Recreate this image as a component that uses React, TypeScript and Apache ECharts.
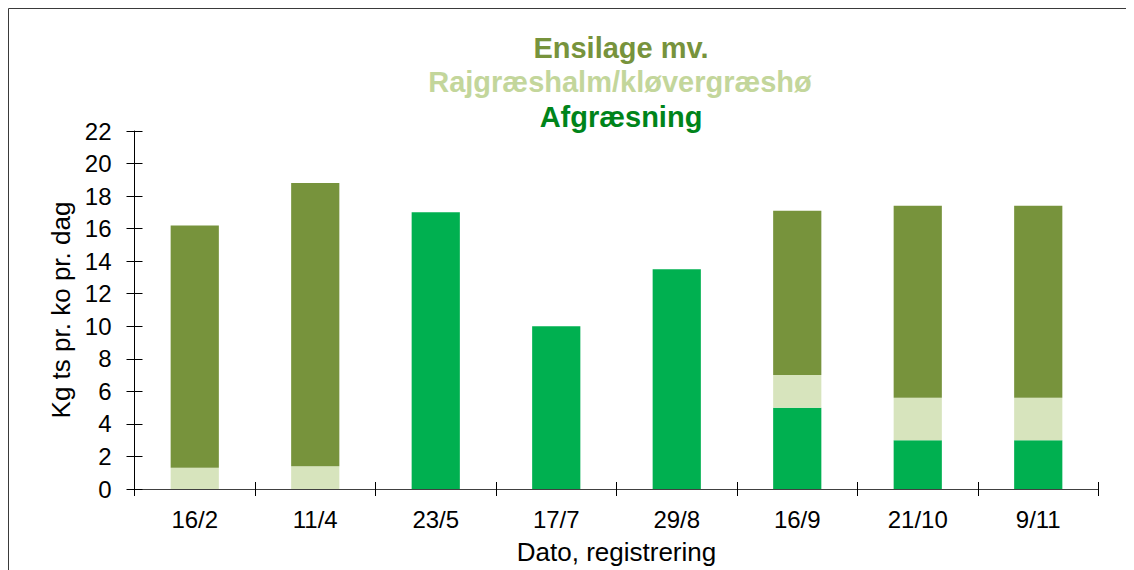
import React, { useEffect, useRef } from "react";
import * as echarts from "echarts";

const categories = ["16/2", "11/4", "23/5", "17/7", "29/8", "16/9", "21/10", "9/11"];
const afgraesning = [0, 0, 17, 10, 13.5, 5, 3, 3];
const rajgraes = [1.3, 1.4, 0, 0, 0, 2, 2.6, 2.6];
const ensilage = [14.9, 17.4, 0, 0, 0, 10.1, 11.8, 11.8];

const FONT = "'Liberation Sans', Arial, sans-serif";

export default function App() {
  const ref = useRef<HTMLDivElement>(null);
  useEffect(() => {
    document.body.style.overflow = "hidden";
    const chart = echarts.init(ref.current!, null, { renderer: "svg" });
    chart.setOption({
      animation: false,
      textStyle: { fontFamily: FONT },
      grid: { left: 126.5, right: 35.5, top: 123, bottom: 79.5 },
      graphic: [
        {
          type: "polyline",
          shape: { points: [[0.5, 600], [0.5, 0.5], [1126, 0.5]] },
          style: { fill: "none", stroke: "#3a3a3a", lineWidth: 1 },
          silent: true,
        },
        {
          type: "text", x: 613, y: 40,
          style: { text: "Ensilage mv.", fill: "#77933C", font: `bold 29px ${FONT}`, textAlign: "center", textVerticalAlign: "middle" },
        },
        {
          type: "text", x: 612, y: 74,
          style: { text: "Rajgræshalm/kløvergræshø", fill: "#C3D69B", font: `bold 29px ${FONT}`, textAlign: "center", textVerticalAlign: "middle" },
        },
        {
          type: "text", x: 613, y: 109,
          style: { text: "Afgræsning", fill: "#00841A", font: `bold 29px ${FONT}`, textAlign: "center", textVerticalAlign: "middle" },
        },
      ],
      xAxis: [
        {
          type: "category",
          data: categories,
          axisLine: { lineStyle: { color: "#404040", width: 1 } },
          axisTick: { show: true, length: 7, lineStyle: { color: "#000" } },
          axisLabel: { fontSize: 24, color: "#000", margin: 18, fontFamily: FONT },
          name: "Dato, registrering",
          nameLocation: "middle",
          nameGap: 50,
          nameTextStyle: { fontSize: 26, color: "#000", fontFamily: FONT },
        },
        {
          type: "category",
          data: categories,
          position: "bottom",
          axisLine: { show: false },
          axisTick: { show: true, inside: true, length: 7, lineStyle: { color: "#000" } },
          axisLabel: { show: false },
        },
      ],
      yAxis: [
        {
          type: "value",
          min: 0,
          max: 22,
          interval: 2,
          splitLine: { show: false },
          axisLine: { show: true, lineStyle: { color: "#000", width: 1 } },
          axisTick: { show: true, length: 8, lineStyle: { color: "#000" } },
          axisLabel: { fontSize: 24, color: "#000", margin: 23, fontFamily: FONT },
          name: "Kg ts pr. ko pr. dag",
          nameLocation: "middle",
          nameRotate: 90,
          nameGap: 60,
          nameTextStyle: { fontSize: 26, color: "#000", fontFamily: FONT },
        },
        {
          type: "value",
          min: 0,
          max: 22,
          interval: 2,
          position: "left",
          splitLine: { show: false },
          axisLine: { show: false },
          axisTick: { show: true, inside: true, length: 8, lineStyle: { color: "#000" } },
          axisLabel: { show: false },
        },
      ],
      series: [
        {
          name: "Afgræsning", type: "bar", stack: "total", data: afgraesning,
          barWidth: "40%", itemStyle: { color: "#00B050" },
        },
        {
          name: "Rajgræshalm/kløvergræshø", type: "bar", stack: "total", data: rajgraes,
          barWidth: "40%", itemStyle: { color: "#D7E4BD" },
        },
        {
          name: "Ensilage mv.", type: "bar", stack: "total", data: ensilage,
          barWidth: "40%", itemStyle: { color: "#77933C" },
        },
      ],
    });
    return () => chart.dispose();
  }, []);
  return <div ref={ref} style={{ width: 1126, height: 562 }} />;
}
